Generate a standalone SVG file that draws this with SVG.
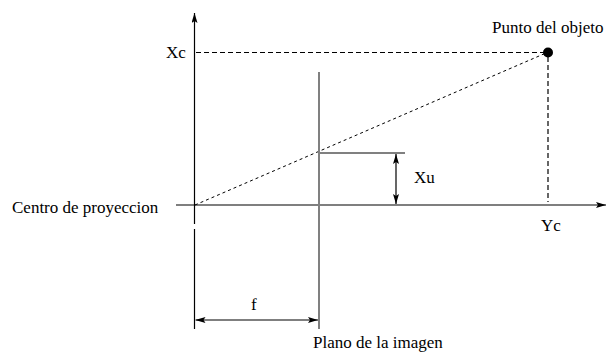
<svg xmlns="http://www.w3.org/2000/svg" width="607" height="356" viewBox="0 0 607 356">
<style>
.ax{stroke:#000;stroke-width:1.2;fill:none}
.gray{stroke:#808080;stroke-width:2;fill:none}
.dash{stroke:#000;stroke-width:1.2;stroke-dasharray:5 3;fill:none}
.dot{stroke:#000;stroke-width:1;stroke-dasharray:3 3;fill:none}
</style>
<defs>
<marker id="ah" viewBox="0 0 10 6" refX="10" refY="3" markerWidth="10" markerHeight="6" markerUnits="userSpaceOnUse" orient="auto-start-reverse">
<path d="M0,0 L10,3 L0,6 L2,3 Z" fill="#000"/>
</marker>
</defs>
<rect width="607" height="356" fill="#fff"/>
<g id="connectors">
<line class="ax" x1="194.5" y1="224" x2="194.5" y2="13" marker-end="url(#ah)"/>
<line class="ax" x1="194.5" y1="229" x2="194.5" y2="329"/>
<line class="ax" x1="176" y1="205" x2="606" y2="205" marker-end="url(#ah)"/>
<line class="dash" x1="196" y1="52.5" x2="544" y2="52.5"/>
<line class="dash" x1="548" y1="57" x2="548" y2="202"/>
<line class="dot" x1="195" y1="205" x2="546" y2="53"/>
<line class="gray" x1="319" y1="72" x2="319" y2="329"/>
<line class="gray" x1="319" y1="153" x2="405" y2="153"/>
<line class="ax" x1="396" y1="154" x2="396" y2="204" marker-start="url(#ah)" marker-end="url(#ah)"/>
<line class="ax" x1="195.5" y1="320" x2="318" y2="320" marker-start="url(#ah)" marker-end="url(#ah)"/>
</g>
<g font-family="Liberation Serif, Times New Roman, serif" font-size="17" fill="#000">
<g id="objeto">
<circle cx="548" cy="52.5" r="5" fill="#000"/>
<text x="492" y="33">Punto del objeto</text>
</g>
<g id="xc"><text x="166" y="58">Xc</text></g>
<g id="yc"><text x="541" y="231">Yc</text></g>
<g id="xu"><text x="414" y="183">Xu</text></g>
<g id="centro"><text x="12" y="213">Centro de proyeccion</text></g>
<g id="f"><text x="251" y="310">f</text></g>
<g id="plano"><text x="313" y="348">Plano de la imagen</text></g>
</g>
</svg>
